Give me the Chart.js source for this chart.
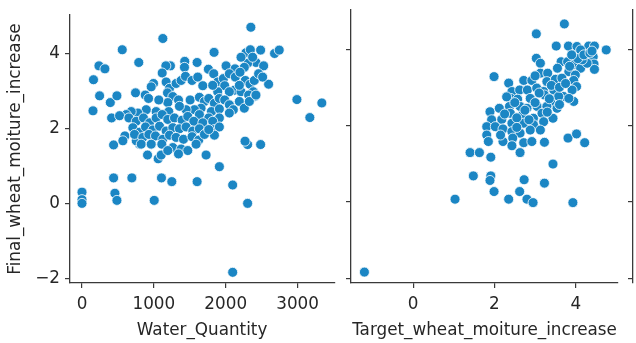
<!DOCTYPE html>
<html>
<head>
<meta charset="utf-8">
<script src="https://cdn.jsdelivr.net/npm/chart.js@4.4.1/dist/chart.umd.min.js"></script>
<style>
    body { margin: 0; background: #fff; width: 636px; height: 343px; overflow: hidden; position: relative; }
    canvas { position: absolute; top: 0; }
</style>
</head>
<body>
<canvas id="chartLeft" width="340" height="343" style="left:0"></canvas>
<canvas id="chartRight" width="296" height="343" style="left:340px"></canvas>
<canvas id="chartEdge" width="36" height="343" style="left:600px"></canvas>
<script>
// Data (estimated)
const waterQuantity = [
    1125, 2350, 560, 790, 160, 236, 319, 245, 153, 394, 486, 412, 745, 1838, 2680, 2745, 2486, 2991, 3338, 3171,
    2597, 2486, 2305, 2269, 1912, 2097, 2305, 2097, 1602, 1250, 1106, 1005, 694, 440, 458, 486, 0, 0, 0, 440,
    597, 569, 1727, 912, 1060, 1102, 968, 801, 755,
    1231, 1430, 1602, 1167, 1426, 1759, 2005, 2130, 2282, 2343, 2421, 2528, 2305, 2259, 2213, 2375,
    1116, 1171, 995, 963, 1218, 1310, 1380, 1440, 1532, 1611, 1681, 1833, 1889, 1968, 2051, 2134, 2199, 2273,
    2338, 2398, 2458, 2514, 1986, 2120, 2213, 2384, 2319, 2412, 2190, 2051, 1889, 1819,
    880, 926, 1190, 1264, 1343, 1194, 1069, 1505, 1634, 1704, 1764, 1843, 1912, 1986, 2051, 2106, 2190, 2259,
    2329, 2421, 1801, 1912, 1657, 1565, 1449, 1356, 1208, 1032, 894, 778, 685, 616, 1634, 1764, 1912, 2051,
    523, 653, 755, 856, 940, 1032, 1116, 1194, 1287, 1394, 1472, 1556, 1681, 1819, 708, 801, 884, 986, 1079,
    1171, 1264, 1356, 1449, 1542, 1634, 1750, 1843, 1912,
    731, 847, 931, 1023, 1125, 1218, 1310, 1412, 1532, 1625, 1704, 1843, 1764, 824, 963, 1111, 1264, 1380,
    1472, 1588, 1343, 1194
];
const finalVsWater = [
    4.4, 4.7, 4.1, 3.76, 3.3, 3.67, 3.59, 2.87, 2.47, 2.69, 2.87, 2.28, 2.95, 4.03, 4.0, 4.09, 4.09, 2.77, 2.68, 2.29,
    3.18, 1.57, 1.57, 1.66, 0.98, 0.49, 0.0, -1.84, 0.58, 0.58, 0.68, 0.08, 0.68, 0.68, 0.27, 0.08, 0.3, 0.1, 0.0, 1.56,
    1.8, 1.67, 1.29, 1.29, 1.19, 1.29, 1.58, 1.58, 1.67,
    3.67, 3.79, 3.76, 3.67, 3.63, 3.58, 3.67, 3.59, 4.02, 4.1, 3.76, 3.67, 3.74, 3.63, 3.9, 3.9,
    3.48, 3.24, 3.2, 3.11, 3.07, 3.2, 3.28, 3.39, 3.28, 3.37, 3.14, 3.46, 3.24, 3.33, 3.46, 3.37, 3.5, 3.28,
    3.18, 3.28, 3.46, 3.37, 3.14, 3.02, 2.98, 2.98, 2.89, 2.86, 3.15, 2.98, 2.98, 3.15,
    2.89, 2.8, 2.95, 2.85, 2.76, 2.69, 2.76, 2.76, 2.83, 2.72, 2.8, 2.67, 2.8, 2.76, 2.63, 2.5, 2.72, 2.54,
    2.72, 2.89, 2.45, 2.52, 2.54, 2.5, 2.5, 2.59, 2.45, 2.45, 2.5, 2.41, 2.45, 2.37, 2.37, 2.28, 2.28, 2.41,
    2.34, 2.28, 2.19, 2.28, 2.15, 2.28, 2.37, 2.24, 2.28, 2.22, 2.32, 2.19, 2.15, 2.19, 2.02, 1.9, 2.04, 1.96, 2.06,
    1.93, 2.02, 1.99, 2.04, 1.93, 1.99, 1.93, 1.97, 2.04,
    1.84, 1.76, 1.84, 1.8, 1.71, 1.82, 1.76, 1.71, 1.78, 1.69, 1.84, 1.82, 1.97, 1.58, 1.58, 1.58, 1.49, 1.45,
    1.41, 1.58, 1.32, 1.41
];

const targetIncrease = [
    3.72, 3.03, 3.52, 3.82, 4.03, 4.32, 4.46, 4.75, 4.12, 4.28, 4.43, 4.45, 4.46, 3.64, 3.8, 3.95, 4.12, 3.83, 3.99, 4.28,
    4.16, 3.03, 3.13, 3.13, 3.31, 1.99, 2.35, 2.72, 2.92, 3.29, 3.5, 3.66, 3.95, 4.02, 3.91, 2.43, 2.62, 2.81, 3.04, 3.21,
    3.46, 3.7, 3.95, 2.4, 2.57, 2.88, 3.23, 3.38, 3.58, 3.83, 2.37, 2.63, 2.8, 3.05, 3.29, 3.54, 1.89, 2.12, 2.39, 2.7,
    2.96, 3.17, 3.44, 1.93, 2.18, 2.43, 2.72, 2.96, 3.21, 1.81, 2.02, 2.21, 2.43, 2.63, 2.88, 3.13, 1.81, 1.85, 2.21, 2.45,
    2.72, 2.92, 3.23, 2.43, 2.63, 3.81, 4.02, 4.22, 1.4, 1.63, 1.91, 3.44, 1.48, 1.91, 1.89, 2.73, 3.23, 1.99, 2.62, 1.03,
    2.35, 2.8, 2.95, 3.93, -1.2,
    2.5, 2.75, 3.0, 3.1, 3.4, 3.6, 3.75, 3.85, 4.05, 4.2, 4.35, 4.4, 2.25, 2.55, 2.85, 3.3, 3.0, 3.55, 3.9, 2.15,
    2.55, 3.35, 3.6, 2.3
];
const finalVsTarget = [
    4.66, 4.4, 4.08, 4.08, 4.07, 4.08, 4.08, 3.98, 3.98, 3.8, 3.8, 3.61, 3.47, 3.67, 3.67, 3.59, 3.5, 3.41, 3.32, 3.63,
    3.72, 3.76, 3.63, 3.37, 3.37, 3.28, 3.11, 3.18, 3.18, 3.15, 3.21, 3.24, 3.18, 3.02, 2.93, 2.89, 2.93, 2.93, 2.98, 2.89,
    2.93, 2.76, 2.63, 2.71, 2.69, 2.71, 2.8, 2.63, 2.76, 2.71, 2.5, 2.5, 2.45, 2.5, 2.5, 2.45, 2.36, 2.45, 2.32, 2.28,
    2.19, 2.32, 2.19, 2.15, 2.16, 2.06, 2.06, 2.02, 2.1, 1.97, 1.97, 1.91, 1.84, 1.8, 1.88, 1.88, 1.75, 1.58, 1.58, 1.67,
    1.55, 1.58, 1.56, 1.47, 1.29, 1.67, 1.78, 1.55, 1.29, 1.29, 1.17, 0.99, 0.68, 0.68, 0.56, 0.58, 0.49, 0.27, 0.27, 0.07,
    0.07, 0.07, -0.02, -0.02, -1.84,
    2.6, 2.4, 2.6, 2.85, 3.05, 3.0, 3.1, 3.55, 3.75, 3.85, 3.9, 3.95, 2.3, 2.2, 2.15, 2.35, 3.3, 3.5, 3.85, 1.75,
    1.95, 2.7, 2.55, 2.75
];

const waterTicks = [0, 1000, 2000, 3000];
const targetTicks = [0, 2, 4];
const finalTicks = [-2, 0, 2, 4];

const textColor = "#262626";
const lineColor = "#3a3a3a";
const dotColor = "rgb(27, 134, 196)";

Chart.defaults.font.family = "'DejaVu Sans', sans-serif";
Chart.defaults.font.size = 16.8;
Chart.defaults.color = textColor;

function toPoints(xs, ys) {
    return xs.map((x, i) => ({ x: x, y: ys[i] }));
}

function dotSet(points) {
    return {
        data: points,
        backgroundColor: dotColor,
        borderColor: "#ffffff",
        borderWidth: 0.8,
        pointRadius: 5,
        pointHoverRadius: 5
    };
}

function fixedTicks(list) {
    return function(scale) {
        scale.ticks = list.map(v => ({ value: v }));
    };
}

function axisGrid() {
    return { drawOnChartArea: false, drawTicks: true, tickLength: 5, color: lineColor, lineWidth: 1.2 };
}

function axisBorder() {
    return { display: true, color: lineColor, width: 1.3 };
}

// plain numbers, with a real minus sign
const plainLabel = v => String(v).replace("-", "\u2212");

// Left panel: Water_Quantity vs Final_wheat_moiture_increase
new Chart(document.getElementById("chartLeft"), {
    type: "scatter",
    data: { datasets: [dotSet(toPoints(waterQuantity, finalVsWater))] },
    options: {
        responsive: false,
        animation: false,
        layout: { padding: { left: 0, right: 5, top: 10, bottom: 0 } },
        plugins: { legend: { display: false }, tooltip: { enabled: false } },
        scales: {
            x: {
                type: "linear",
                min: -167,
                max: 3510,
                afterBuildTicks: fixedTicks(waterTicks),
                afterFit: s => { s.height = 60; },
                ticks: { padding: 7, color: textColor, callback: plainLabel },
                grid: axisGrid(),
                border: axisBorder(),
                title: { display: true, text: "Water_Quantity", color: textColor, padding: { top: 0, bottom: 2 } }
            },
            y: {
                type: "linear",
                min: -2.125,
                max: 5.025,
                afterBuildTicks: fixedTicks(finalTicks),
                afterFit: s => { s.width = 70; },
                ticks: { padding: 5, color: textColor, callback: plainLabel },
                grid: axisGrid(),
                border: axisBorder(),
                title: { display: true, text: "Final_wheat_moiture_increase", color: textColor, padding: { top: 6, bottom: 0 } }
            }
        }
    }
});

// Right panel: Target_wheat_moiture_increase vs Final_wheat_moiture_increase
new Chart(document.getElementById("chartRight"), {
    type: "scatter",
    data: { datasets: [dotSet(toPoints(targetIncrease, finalVsTarget))] },
    options: {
        responsive: false,
        animation: false,
        layout: { padding: { left: 0, right: 18, top: 10, bottom: 0 } },
        plugins: { legend: { display: false }, tooltip: { enabled: false } },
        scales: {
            x: {
                type: "linear",
                min: -1.53,
                max: 5.04,
                afterBuildTicks: fixedTicks(targetTicks),
                afterFit: s => { s.height = 60; },
                ticks: { padding: 7, color: textColor, callback: plainLabel },
                grid: axisGrid(),
                border: axisBorder(),
                title: { display: true, text: "Target_wheat_moiture_increase", color: textColor, padding: { top: 0, bottom: 2 } }
            },
            y: {
                type: "linear",
                min: -2.125,
                max: 5.025,
                afterBuildTicks: fixedTicks(finalTicks),
                afterFit: s => { s.width = 11; },
                ticks: { display: false },
                grid: axisGrid(),
                border: axisBorder()
            }
        }
    }
});

// Next panel, cut off by the right edge: only its y axis shows
new Chart(document.getElementById("chartEdge"), {
    type: "scatter",
    data: { datasets: [dotSet([])] },
    options: {
        responsive: false,
        animation: false,
        layout: { padding: { left: 0, right: 0, top: 10, bottom: 60 } },
        plugins: { legend: { display: false }, tooltip: { enabled: false } },
        scales: {
            x: { type: "linear", display: false, min: 0, max: 1 },
            y: {
                type: "linear",
                min: -2.125,
                max: 5.025,
                afterBuildTicks: fixedTicks(finalTicks),
                afterFit: s => { s.width = 33; },
                ticks: { display: false },
                grid: axisGrid(),
                border: axisBorder()
            }
        }
    }
});
</script>
</body>
</html>
